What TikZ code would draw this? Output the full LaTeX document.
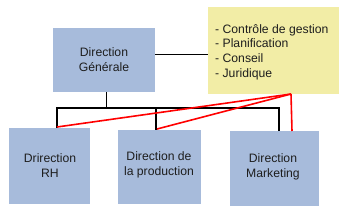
\documentclass[tikz,border=0pt]{standalone}
\usepackage{fontspec}
\setmainfont{Liberation Sans}
\begin{document}
\begin{tikzpicture}[x=1pt,y=-1pt,
  box/.style={fill=boxblue,draw=none},
  lbl/.style={text=txt,font=\fontsize{12.2}{15}\selectfont,align=center,inner sep=0pt},
  bus/.style={line width=2.4pt,black},
  thin/.style={line width=1pt,black},
  redl/.style={line width=1.6pt,red}]
\definecolor{boxblue}{HTML}{A7BBDB}
\definecolor{yel}{HTML}{F2EDA6}
\definecolor{txt}{HTML}{1E1E1E}
\useasboundingbox (0,0) rectangle (348,223);
\fill[white] (0,0) rectangle (348,223);
% boxes
\path[box] (53,28) rectangle (155,92);
\fill[yel] (208,7) rectangle (339,94);
\path[box] (9,128) rectangle (90,204);
\path[box] (118,130) rectangle (201,204);
\path[box] (230,131) rectangle (319,206);
% named nodes
\node[lbl] (dg) at (104,60) {Direction\\Générale};
\node[lbl,anchor=west,align=left,font=\fontsize{12.2}{14.7}\selectfont] (list) at (215,52)
  {- Contrôle de gestion\\- Planification\\- Conseil\\- Juridique};
\node[lbl] (rh) at (50,165.5) {Drirection\\RH};
\node[lbl] (prod) at (159,164.5) {Direction de\\la production};
\node[lbl] (mkt) at (273,166.5) {Direction\\Marketing};
% coordinates
\coordinate (dgr) at (155,54);
\coordinate (yl) at (208,54);
\coordinate (dgb) at (106,92);
\coordinate (busc) at (106,108);
\coordinate (b1) at (57,108);
\coordinate (b2) at (156,108);
\coordinate (b3) at (279,108);
\coordinate (rht) at (57,128);
\coordinate (prt) at (156,130);
\coordinate (mkt1) at (279,131);
\coordinate (ybot) at (291,94);
\coordinate (r1) at (57,127);
\coordinate (r2) at (157,129);
\coordinate (r3) at (292,131);
% connectors
\draw[thin] (dgr) -- (yl);
\draw[thin] (dgb) -- (busc);
\draw[bus] (rht) -- (b1) -- (b3) -- (mkt1);
\draw[bus] (b2) -- (prt);
\draw[redl] (ybot) -- (r1);
\draw[redl] (ybot) -- (r2);
\draw[redl] (ybot) -- (r3);
\end{tikzpicture}
\end{document}
